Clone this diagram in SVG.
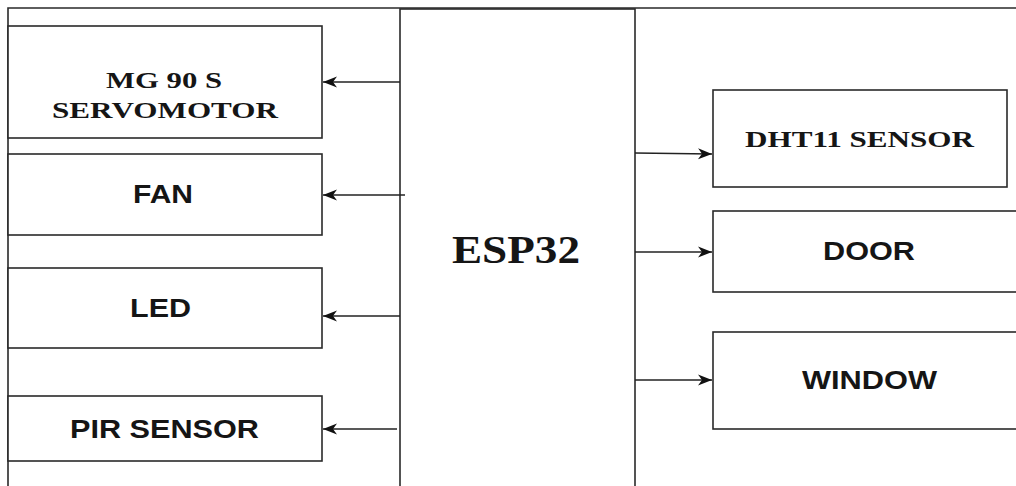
<svg xmlns="http://www.w3.org/2000/svg" width="1016" height="486" viewBox="0 0 1016 486">
  <style>
    .box { fill: #ffffff; stroke: #2a2a2a; stroke-width: 1.6; }
    .frame { fill: none; stroke: #2a2a2a; stroke-width: 1.6; }
    .conn { fill: none; stroke: #222222; stroke-width: 1.5; }
    .serif { font-family: "Liberation Serif", "Times New Roman", serif; font-weight: bold; fill: #151515; }
    .sans { font-family: "Liberation Sans", Arial, sans-serif; font-weight: bold; fill: #151515; }
  </style>
  <defs>
    <marker id="arrow" markerUnits="userSpaceOnUse" markerWidth="16" markerHeight="14" refX="14" refY="6" orient="auto">
      <path d="M0,0.5 L14,6 L0,11.5 L4,6 Z" fill="#111111"/>
    </marker>
  </defs>
  <rect width="1016" height="486" fill="#ffffff"/>
  <path class="frame" d="M8,486 L8,8 L1016,8"/>

  <g id="esp32">
    <rect class="box" x="400" y="9" width="235" height="490"/>
    <text class="serif" x="516" y="263" font-size="39" text-anchor="middle" textLength="128" lengthAdjust="spacingAndGlyphs">ESP32</text>
  </g>

  <g id="servomotor">
    <rect class="box" x="8" y="26" width="314" height="112"/>
    <text class="serif" x="164" y="88" font-size="23" text-anchor="middle" textLength="116" lengthAdjust="spacingAndGlyphs">MG 90 S</text>
    <text class="serif" x="165" y="118" font-size="23" text-anchor="middle" textLength="226" lengthAdjust="spacingAndGlyphs">SERVOMOTOR</text>
  </g>

  <g id="fan">
    <rect class="box" x="8" y="154" width="314" height="81"/>
    <text class="sans" x="163" y="203" font-size="25" text-anchor="middle" textLength="60" lengthAdjust="spacingAndGlyphs">FAN</text>
  </g>

  <g id="led">
    <rect class="box" x="8" y="268" width="314" height="80"/>
    <text class="sans" x="160.5" y="317" font-size="25" text-anchor="middle" textLength="61" lengthAdjust="spacingAndGlyphs">LED</text>
  </g>

  <g id="pir">
    <rect class="box" x="8" y="396" width="314" height="65"/>
    <text class="sans" x="164.5" y="438" font-size="25" text-anchor="middle" textLength="189" lengthAdjust="spacingAndGlyphs">PIR SENSOR</text>
  </g>

  <g id="dht11">
    <rect class="box" x="713" y="90" width="294" height="97"/>
    <text class="serif" x="859.5" y="147" font-size="23" text-anchor="middle" textLength="229" lengthAdjust="spacingAndGlyphs">DHT11 SENSOR</text>
  </g>

  <g id="door">
    <rect class="box" x="713" y="211" width="320" height="81"/>
    <text class="sans" x="869" y="260" font-size="25" text-anchor="middle" textLength="92" lengthAdjust="spacingAndGlyphs">DOOR</text>
  </g>

  <g id="window">
    <rect class="box" x="713" y="332" width="320" height="97"/>
    <text class="sans" x="869.5" y="389" font-size="25" text-anchor="middle" textLength="135" lengthAdjust="spacingAndGlyphs">WINDOW</text>
  </g>

  <g id="connectors">
    <line class="conn" x1="400" y1="82" x2="323" y2="82" marker-end="url(#arrow)"/>
    <line class="conn" x1="405" y1="195" x2="323" y2="195" marker-end="url(#arrow)"/>
    <line class="conn" x1="400" y1="316" x2="323" y2="316" marker-end="url(#arrow)"/>
    <line class="conn" x1="397" y1="429" x2="323" y2="429" marker-end="url(#arrow)"/>
    <line class="conn" x1="635" y1="153" x2="712" y2="154" marker-end="url(#arrow)"/>
    <line class="conn" x1="635" y1="252" x2="712" y2="252" marker-end="url(#arrow)"/>
    <line class="conn" x1="635" y1="380" x2="712" y2="380" marker-end="url(#arrow)"/>
  </g>
</svg>
